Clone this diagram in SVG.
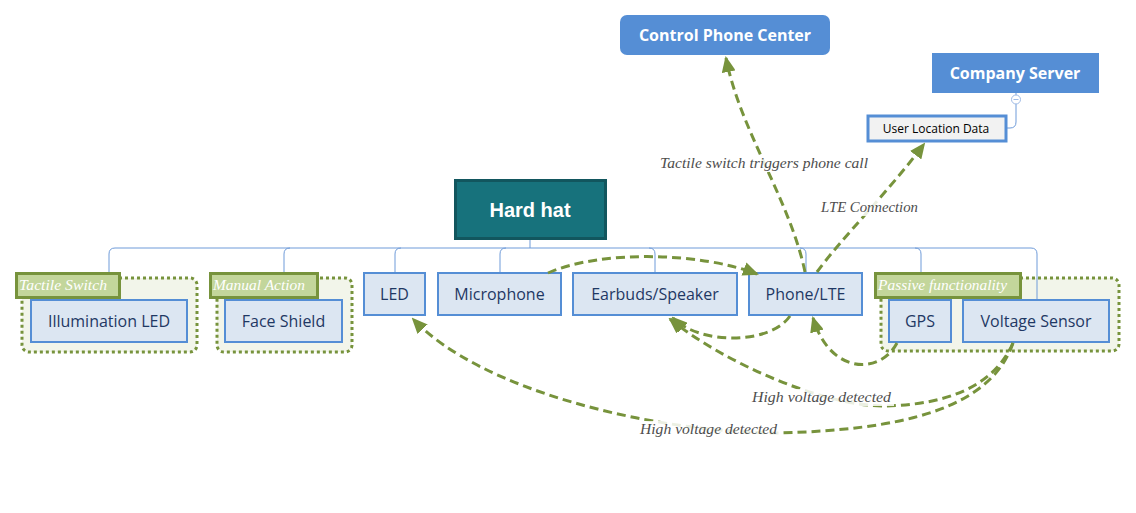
<svg xmlns="http://www.w3.org/2000/svg" width="1136" height="513" viewBox="0 0 1136 513">
<defs>
<style>
.node rect{fill:#dce6f2;stroke:#558ed5;stroke-width:2}
.node text{font-family:"Open Sans","Noto Sans",sans-serif;font-size:16px;fill:#1f3864;text-anchor:middle;dominant-baseline:central}
.grp{fill:#f2f5ea;stroke:#77933c;stroke-width:3;stroke-dasharray:3 3}
.glabel rect{fill:#c3d69b;stroke:#77933c;stroke-width:3}
.glabel text{font-family:"Liberation Serif",serif;font-style:italic;font-size:15px;fill:#ffffff}
.tree{fill:none;stroke:#6f9bd9;stroke-width:1}
.rel{fill:none;stroke:#77933c;stroke-width:3;stroke-dasharray:9 5}
.rlabel{font-family:"Liberation Serif",serif;font-style:italic;font-size:15px;fill:#4d4d4d}
.lbg{fill:#ffffff;opacity:0.85}
.blue rect{fill:#558ed5}
.blue text{font-family:"Open Sans","Noto Sans",sans-serif;font-weight:bold;font-size:16px;fill:#ffffff;text-anchor:middle;dominant-baseline:central}
</style>
<marker id="ah" markerUnits="userSpaceOnUse" markerWidth="16" markerHeight="14" viewBox="0 0 16 14" refX="14" refY="7" orient="auto">
<path d="M0,0 L16,7 L0,14 Z" fill="#77933c"/>
</marker>
</defs>
<rect x="0" y="0" width="1136" height="513" fill="#ffffff"/>

<!-- group backgrounds -->
<g id="group-tactile">
<rect class="grp" x="22" y="278" width="175" height="74" rx="7"/>
</g>
<g id="group-manual">
<rect class="grp" x="217" y="278" width="135" height="74" rx="7"/>
</g>
<g id="group-passive">
<rect class="grp" x="881" y="278" width="238" height="73" rx="7"/>
</g>

<!-- tree connectors -->
<g id="tree-connectors">
<path class="tree" d="M530,240 V248"/>
<path class="tree" d="M530,248 H115 Q109,248 109,254 V300"/>
<path class="tree" d="M290,248 Q284,248 284,254 V300"/>
<path class="tree" d="M401,248 Q395,248 395,254 V273"/>
<path class="tree" d="M506,248 Q500,248 500,254 V273"/>
<path class="tree" d="M530,248 H1031 Q1037,248 1037,254 V300"/>
<path class="tree" d="M649,248 Q655,248 655,254 V273"/>
<path class="tree" d="M800,248 Q806,248 806,254 V273"/>
<path class="tree" d="M915,248 Q921,248 921,254 V300"/>
<path class="tree" d="M1016,93 V122 Q1016,128 1010,128 H1007"/>
</g>

<!-- nodes -->
<g id="hard-hat">
<rect x="455.5" y="180.5" width="150" height="58" fill="#17727c" stroke="#12565e" stroke-width="3"/>
<text x="530" y="210" font-family="'Liberation Sans',Arial,sans-serif" font-weight="bold" font-size="20" fill="#ffffff" text-anchor="middle" dominant-baseline="central">Hard hat</text>
</g>
<g id="control-phone-center" class="blue">
<rect x="620" y="15" width="210" height="40" rx="7"/>
<text x="725" y="35">Control Phone Center</text>
</g>
<g id="company-server" class="blue">
<rect x="932" y="53" width="167" height="40"/>
<text x="1015" y="73">Company Server</text>
</g>
<g id="collapse-toggle">
<circle cx="1016" cy="99.5" r="4.5" fill="#ffffff" stroke="#9fbbe6" stroke-width="1"/>
<path d="M1013.5,99.5 H1018.5" stroke="#9fbbe6" stroke-width="1"/>
</g>
<g id="user-location-data">
<rect x="868" y="116" width="138" height="25" fill="#f2f2f2" stroke="#558ed5" stroke-width="3"/>
<text x="936" y="128.5" font-family="'Open Sans','Noto Sans',sans-serif" font-size="12" fill="#000000" text-anchor="middle" dominant-baseline="central">User Location Data</text>
</g>

<g id="illumination-led" class="node">
<rect x="31" y="300" width="156" height="42"/>
<text x="109" y="321">Illumination LED</text>
</g>
<g id="face-shield" class="node">
<rect x="225" y="300" width="117" height="42"/>
<text x="283.5" y="321">Face Shield</text>
</g>
<g id="led" class="node">
<rect x="364" y="273" width="61" height="42"/>
<text x="394.5" y="294">LED</text>
</g>
<g id="microphone" class="node">
<rect x="438" y="273" width="123" height="42"/>
<text x="499.5" y="294">Microphone</text>
</g>
<g id="earbuds-speaker" class="node">
<rect x="573" y="273" width="164" height="42"/>
<text x="655" y="294">Earbuds/Speaker</text>
</g>
<g id="phone-lte" class="node">
<rect x="749" y="273" width="113" height="42"/>
<text x="805.5" y="294">Phone/LTE</text>
</g>
<g id="gps" class="node">
<rect x="889" y="300" width="62" height="42"/>
<text x="920" y="321">GPS</text>
</g>
<g id="voltage-sensor" class="node">
<rect x="963" y="300" width="146" height="42"/>
<text x="1036" y="321">Voltage Sensor</text>
</g>

<!-- group labels -->
<g id="label-tactile" class="glabel">
<rect x="16.5" y="273.5" width="103" height="24"/>
<text x="19" y="290" textLength="88" lengthAdjust="spacingAndGlyphs">Tactile Switch</text>
</g>
<g id="label-manual" class="glabel">
<rect x="210.5" y="273.5" width="107" height="24"/>
<text x="213" y="290" textLength="92" lengthAdjust="spacingAndGlyphs">Manual Action</text>
</g>
<g id="label-passive" class="glabel">
<rect x="875.5" y="273.5" width="145" height="24"/>
<text x="878" y="290" textLength="129" lengthAdjust="spacingAndGlyphs">Passive functionality</text>
</g>

<!-- relation connectors -->
<g id="relations">
<path class="rel" d="M805,272 C790,200 740,130 726,58" marker-end="url(#ah)"/>
<path class="rel" d="M817,272 C840,240 890,190 924,144" marker-end="url(#ah)"/>
<path class="rel" d="M548,273 C600,250 700,252 757,274" marker-end="url(#ah)"/>
<path class="rel" d="M790,316 C770,345 700,345 673,318" marker-end="url(#ah)"/>
<path class="rel" d="M897,343 C880,375 830,375 813,318" marker-end="url(#ah)"/>
<path class="rel" d="M1013,343 C990,395 930,405 885,406 C820,406 720,360 670,319" marker-end="url(#ah)"/>
<path class="rel" d="M1013,343 C990,410 900,430 777,433 C650,432 480,390 413,319" marker-end="url(#ah)"/>

<rect class="lbg" x="658" y="155" width="212" height="17"/>
<text class="rlabel" x="660" y="168" textLength="208" lengthAdjust="spacingAndGlyphs">Tactile switch triggers phone call</text>
<rect class="lbg" x="819" y="199" width="101" height="17"/>
<text class="rlabel" x="821" y="212" textLength="97" lengthAdjust="spacingAndGlyphs">LTE Connection</text>
<rect class="lbg" x="750" y="389" width="144" height="17"/>
<text class="rlabel" x="752" y="402" textLength="139" lengthAdjust="spacingAndGlyphs">High voltage detected</text>
<rect class="lbg" x="638" y="421" width="142" height="17"/>
<text class="rlabel" x="640" y="434" textLength="137" lengthAdjust="spacingAndGlyphs">High voltage detected</text>
</g>
</svg>
